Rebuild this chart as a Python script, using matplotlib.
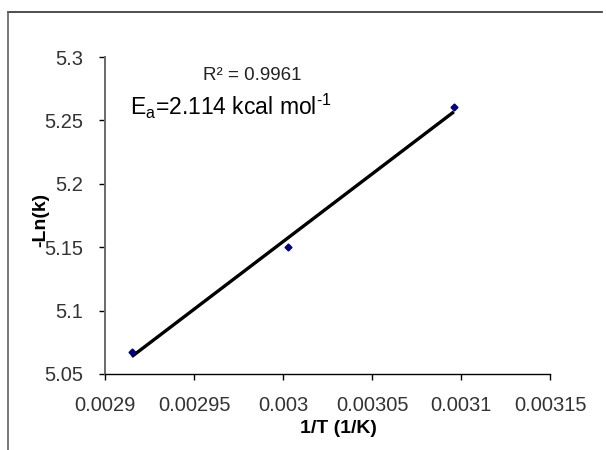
import numpy as np
import matplotlib
matplotlib.use("Agg")
import matplotlib.pyplot as plt
from matplotlib.lines import Line2D

# Arrhenius data: 1/T (1/K) vs -ln(k)
inv_T = [0.002915, 0.003003, 0.003096]
neg_ln_k = [5.0674, 5.1504, 5.2603]

x_ticks = [0.0029, 0.00295, 0.003, 0.00305, 0.0031, 0.00315]
x_tick_labels = ["0.0029", "0.00295", "0.003", "0.00305", "0.0031", "0.00315"]
y_ticks = [5.05, 5.1, 5.15, 5.2, 5.25, 5.3]
y_tick_labels = ["5.05", "5.1", "5.15", "5.2", "5.25", "5.3"]

r2_text = "R² = 0.9961"
ea_text = r"E$_a$=2.114 kcal mol$^{\text{-}1}$"

plt.rcParams["font.family"] = ["Liberation Sans", "DejaVu Sans"]
plt.rcParams["mathtext.fontset"] = "custom"
plt.rcParams["mathtext.rm"] = "Liberation Sans"
plt.rcParams["mathtext.default"] = "regular"

fig = plt.figure(figsize=(6.06, 4.5), dpi=100)
ax = fig.add_axes([0.1733, 0.1689, 0.7343, 0.7044])

# linear trend line through the points
slope, intercept = np.polyfit(inv_T, neg_ln_k, 1)
fit_x = np.array([min(inv_T), max(inv_T)])
ax.plot(fit_x, slope * fit_x + intercept, color="black", lw=2.4,
        solid_capstyle="butt", zorder=2)
ax.plot(inv_T, neg_ln_k, linestyle="none", marker="D", ms=3.5,
        color="#000080", zorder=3)

ax.set_xlim(0.0029, 0.00315)
ax.set_ylim(5.05, 5.3)
ax.set_xticks(x_ticks)
ax.set_xticklabels(x_tick_labels)
ax.set_yticks(y_ticks)
ax.set_yticklabels(y_tick_labels)

for side in ["top", "right"]:
    ax.spines[side].set_visible(False)
ax.spines["left"].set_color("#6a6a6a")
ax.spines["left"].set_linewidth(1.4)
ax.spines["bottom"].set_color("black")
ax.spines["bottom"].set_linewidth(1.0)

ax.tick_params(axis="both", direction="out", length=4, width=1.0,
               labelsize=14.5, labelcolor="#333333")
ax.tick_params(axis="x", pad=12)
ax.tick_params(axis="y", pad=12)

ax.text(0.22, 0.943, r2_text, transform=ax.transAxes, fontsize=13.5,
        va="center", ha="left", color="#222222")
ax.text(0.056, 0.817, ea_text, transform=ax.transAxes, fontsize=16.5,
        va="baseline", ha="left", color="black")

fig.text(0.558, 0.047, "1/T (1/K)", fontsize=14, fontweight="bold",
         ha="center", va="center")
fig.text(0.068, 0.512, "-Ln(k)", fontsize=14, fontweight="bold",
         rotation=90, ha="center", va="center")

# outer chart frame (top and left edges only visible)
fig.add_artist(Line2D([8 / 606, 602 / 606], [1 - 12 / 450, 1 - 12 / 450],
                      color="#303030", lw=1.2, transform=fig.transFigure))
fig.add_artist(Line2D([8 / 606, 8 / 606], [1 - 12 / 450, 0],
                      color="#606060", lw=1.2, transform=fig.transFigure))

fig.savefig("out.png", dpi=100)
